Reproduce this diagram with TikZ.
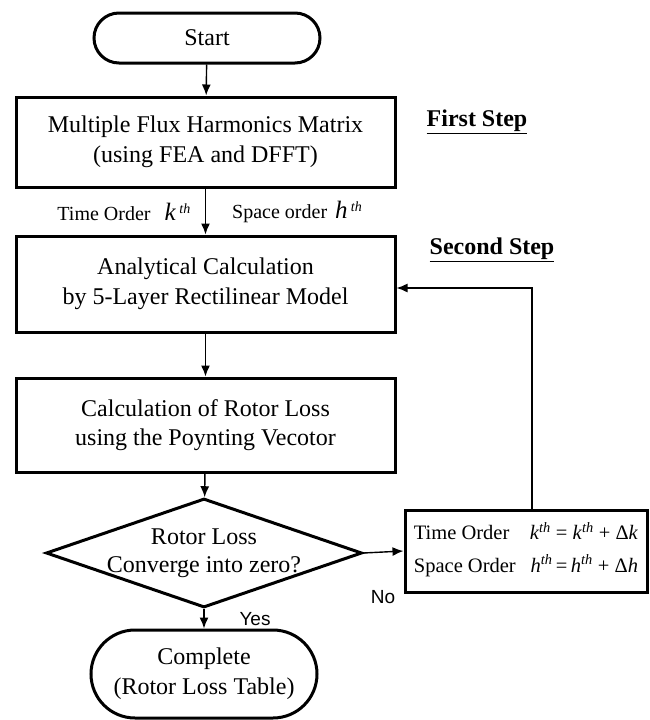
\documentclass[tikz,border=0pt]{standalone}
\usepackage{fontspec}
\setmainfont{Liberation Serif}
\newfontfamily\arialfont{Liberation Sans}
\usetikzlibrary{shapes.geometric,arrows.meta}
\newcommand{\thsup}[1]{\textsuperscript{\textit{#1}}}
\tikzset{
  box/.style={draw, line width=3pt, minimum width=379pt, inner sep=0pt, align=center,
    font=\fontsize{24}{29.5}\selectfont},
  term/.style={draw, line width=3pt, rounded corners=#1, minimum width=226pt, inner sep=0pt,
    align=center, font=\fontsize{24}{30}\selectfont},
  dec/.style={draw, diamond, line width=3pt, minimum width=316pt, minimum height=109pt,
    inner sep=0pt, aspect=2.9},
  dectext/.style={inner sep=0pt, align=center, font=\fontsize{24}{28}\selectfont},
  conn/.style={line width=1.4pt, -{Latex[length=11pt,width=9pt]}},
  lbl/.style={inner sep=0pt, font=\fontsize{20}{24}\selectfont},
  steplbl/.style={inner sep=0pt, font=\fontsize{24}{28}\selectfont\bfseries},
  yn/.style={inner sep=0pt, font=\arialfont\fontsize{19}{22}\selectfont}
}
\begin{document}
\begin{tikzpicture}[x=1pt,y=-1pt]
\useasboundingbox (0,0) rectangle (649,720);
\node[term=25pt, minimum height=50pt] (start) at (207,38) {Start};
\node[box, minimum height=90pt] (b1) at (205.5,142) {Multiple Flux Harmonics Matrix\\(using FEA and DFFT)};
\node[box, minimum height=96pt] (b2) at (205.5,284) {Analytical Calculation\\by 5-Layer Rectilinear Model};
\node[box, minimum height=94pt] (b3) at (205.5,425) {Calculation of Rotor Loss\\using the Poynting Vecotor};
\node[dec] (d) at (204,553) {};
\node[dectext] (dt) at (204,553) {Rotor Loss\\Converge into zero?};
\node[term=44pt, minimum height=88pt] (c) at (204,674) {Complete\\(Rotor Loss Table)};
\node[draw, line width=3pt, minimum width=242pt, minimum height=82pt, inner sep=0pt,
  font=\fontsize{20.5}{24}\selectfont] (to) at (526,551)
  {\begin{tabular}{@{}l@{\hspace{14pt}}r@{}}
   Time Order & \textit{k}\thsup{th} = \textit{k}\thsup{th} + Δ\textit{k}\\[8pt]
   Space Order & \textit{h}\thsup{th}\,=\,\textit{h}\thsup{th} + Δ\textit{h}
   \end{tabular}};
\node[lbl, anchor=east] (tl) at (191,212) {Time Order\hspace{14pt}{\fontsize{25}{28}\selectfont\textit{k}}\,\thsup{th}};
\node[lbl, anchor=west] (sl) at (232,212) {Space order\hspace{8pt}{\fontsize{25}{28}\selectfont\textit{h}}\,\thsup{th}};
\node[steplbl] (fs) at (477,122) {\underline{First Step}};
\node[steplbl] (ss) at (492,250) {\underline{Second Step}};
\node[yn] (no) at (383,597) {No};
\node[yn] (yes) at (255,619) {Yes};
\draw[conn] (start) -- (b1);
\draw[conn] (b1) -- (b2);
\draw[conn] (b2) -- (b3);
\draw[conn] (b3) -- (d);
\draw[conn] (d) -- (c);
\draw[conn] (d.east) -- (to.west);
\coordinate (tt) at ([xshift=6pt]to.north);
\draw[conn] (tt) |- ([yshift=-4pt]b2.east);
\end{tikzpicture}
\end{document}
